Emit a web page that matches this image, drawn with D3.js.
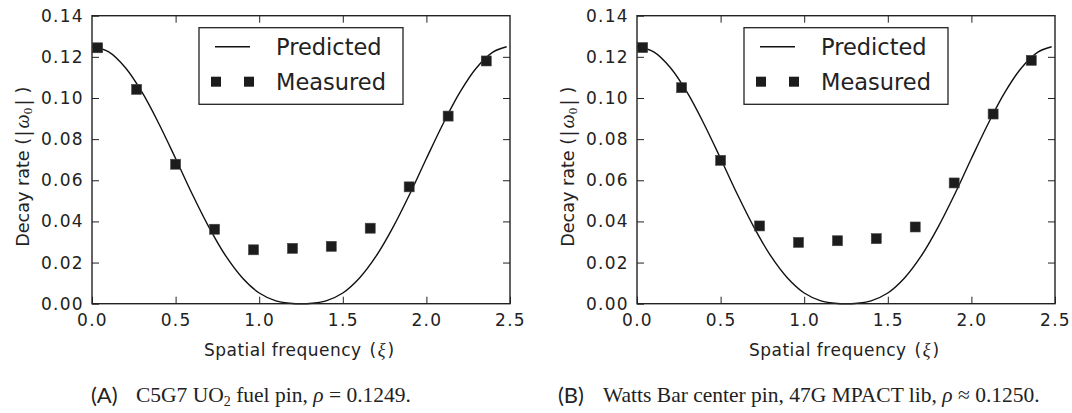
<!DOCTYPE html>
<html>
<head>
<meta charset="utf-8">
<script src="https://cdn.jsdelivr.net/npm/d3@7"></script>
<style>
  body { margin: 0; background: #fff; }
  svg { display: block; }
</style>
</head>
<body>
<div id="graphicContainer"></div>
<script>
// spatial frequency samples for the predicted curve
const xiCurve = [0.0, 0.1, 0.2, 0.3, 0.4, 0.5, 0.6, 0.7, 0.8, 0.9, 1.0, 1.1, 1.2, 1.25,
                 1.3, 1.4, 1.5, 1.6, 1.7, 1.8, 1.9, 2.0, 2.1, 2.2, 2.3, 2.4, 2.48];
const predicted = [0.1250, 0.1224, 0.1147, 0.1027, 0.0875, 0.0706, 0.0532, 0.0371, 0.0232,
                   0.0125, 0.0052, 0.0014, 0.0001, 0.0, 0.0001, 0.0014, 0.0052, 0.0125,
                   0.0232, 0.0371, 0.0532, 0.0706, 0.0875, 0.1027, 0.1147, 0.1224, 0.1249];

// measured points
const xiMeasured = [0.034, 0.267, 0.500, 0.733, 0.966, 1.199, 1.431, 1.664, 1.897, 2.130, 2.358];
const measuredA = [0.1244, 0.1042, 0.0678, 0.0362, 0.0262, 0.0269, 0.0279, 0.0367, 0.0568, 0.0912, 0.1180];
const measuredB = [0.1245, 0.1050, 0.0697, 0.0378, 0.0298, 0.0306, 0.0316, 0.0373, 0.0587, 0.0922, 0.1183];

const xTicks = [0.0, 0.5, 1.0, 1.5, 2.0, 2.5];
const yTicks = [0.00, 0.02, 0.04, 0.06, 0.08, 0.10, 0.12, 0.14];
const legendLabels = ["Predicted", "Measured"];

const svg = d3.select("#graphicContainer").append("svg")
    .attr("width", 1072)
    .attr("height", 413);

function drawPanel(left, measured, letter, caption, capX) {
    const w = 418, h = 288, top = 15.7;
    const g = svg.append("g").attr("transform", `translate(${left},${top})`);

    const x = d3.scaleLinear().domain([0, 2.5]).range([0, w]);
    const y = d3.scaleLinear().domain([0, 0.14]).range([h, 0]);

    // curve
    const line = d3.line()
        .x((d, i) => x(xiCurve[i]))
        .y(d => y(d))
        .curve(d3.curveCatmullRom);
    g.append("path")
        .datum(predicted)
        .attr("d", line)
        .attr("fill", "none")
        .attr("stroke", "#111")
        .attr("stroke-width", 1.4);

    // measured squares
    const s = 10;
    g.selectAll("rect.pt")
        .data(measured)
        .enter().append("rect")
        .attr("class", "pt")
        .attr("x", (d, i) => x(xiMeasured[i]) - s / 2)
        .attr("y", d => y(d) - s / 2)
        .attr("width", s)
        .attr("height", s)
        .attr("fill", "#1c1c1c")
        .attr("stroke", "#444")
        .attr("stroke-width", 0.6);

    // axes, ticks pointing inward on all four sides
    const tickLen = 7;
    const styleAxis = (sel) => {
        sel.select(".domain").remove();
        sel.selectAll(".tick line").attr("stroke", "#222").attr("stroke-width", 1);
        sel.selectAll(".tick text")
            .attr("fill", "#222")
            .attr("font-family", "DejaVu Sans")
            .style("font-size", "17px")
            .style("letter-spacing", "1.3px");
    };
    g.append("g").attr("transform", `translate(0,${h})`)
        .call(d3.axisBottom(x).tickValues(xTicks).tickFormat(d3.format(".1f"))
            .tickSizeInner(-tickLen).tickSizeOuter(0).tickPadding(10))
        .call(styleAxis);
    g.append("g")
        .call(d3.axisTop(x).tickValues(xTicks.slice(1, -1)).tickFormat("")
            .tickSizeInner(-tickLen).tickSizeOuter(0))
        .call(styleAxis);
    g.append("g")
        .call(d3.axisLeft(y).tickValues(yTicks).tickFormat(d3.format(".2f"))
            .tickSizeInner(-tickLen).tickSizeOuter(0).tickPadding(8))
        .call(styleAxis);
    g.append("g").attr("transform", `translate(${w},0)`)
        .call(d3.axisRight(y).tickValues(yTicks.slice(1, -1)).tickFormat("")
            .tickSizeInner(-tickLen).tickSizeOuter(0))
        .call(styleAxis);

    // frame
    g.append("rect")
        .attr("width", w).attr("height", h)
        .attr("fill", "none")
        .attr("stroke", "#222")
        .attr("stroke-width", 1.4);

    // legend
    const lg = g.append("g").attr("transform", "translate(107,12)");
    lg.append("rect")
        .attr("width", 204).attr("height", 76.6)
        .attr("fill", "#fff")
        .attr("stroke", "#222")
        .attr("stroke-width", 1.3);
    lg.append("line")
        .attr("x1", 16).attr("x2", 51).attr("y1", 19).attr("y2", 19)
        .attr("stroke", "#111").attr("stroke-width", 1.4);
    [17, 50].forEach(cx => {
        lg.append("rect")
            .attr("x", cx - s / 2).attr("y", 54 - s / 2)
            .attr("width", s).attr("height", s)
            .attr("fill", "#1c1c1c");
    });
    lg.selectAll("text.lab")
        .data(legendLabels)
        .enter().append("text")
        .attr("class", "lab")
        .attr("x", 77)
        .attr("y", (d, i) => 27 + i * 35)
        .attr("font-family", "DejaVu Sans")
        .attr("font-size", 22.5)
        .attr("fill", "#222")
        .text(d => d);

    // y label (baseline 63px left of the frame)
    const yl = g.append("text")
        .attr("transform", `translate(-63,${h / 2 + 7}) rotate(-90)`)
        .attr("text-anchor", "middle")
        .attr("font-family", "DejaVu Sans")
        .attr("font-size", 17.6)
        .attr("fill", "#222");
    yl.append("tspan").text("Decay rate (");
    yl.append("tspan").attr("font-family", "DejaVu Serif").attr("font-size", 19).attr("dx", 1).text("|");
    yl.append("tspan").attr("font-family", "Liberation Serif").attr("font-style", "italic")
        .attr("font-size", 20).attr("dx", 2).text("ω");
    yl.append("tspan").attr("font-family", "Liberation Serif").attr("font-size", 13).attr("dy", 3).text("0");
    yl.append("tspan").attr("font-family", "DejaVu Serif").attr("font-size", 19).attr("dx", 2).attr("dy", -3).text("|");
    yl.append("tspan").attr("dx", 6).text(")");

    // x label
    const xl = g.append("text")
        .attr("x", w / 2 - 2)
        .attr("y", 356 - top)
        .attr("text-anchor", "middle")
        .attr("font-family", "DejaVu Sans")
        .attr("font-size", 17)
        .attr("fill", "#222");
    xl.append("tspan").attr("letter-spacing", 0.5).text("Spatial frequency");
    xl.append("tspan").attr("dx", 8).text("(");
    xl.append("tspan").attr("font-family", "Liberation Serif").attr("font-style", "italic")
        .attr("font-size", 18).attr("dx", 1.5).text("ξ");
    xl.append("tspan").attr("dx", 2).text(")");

    // caption
    svg.append("text")
        .attr("x", capX)
        .attr("y", 403)
        .attr("font-family", "Lato")
        .attr("font-size", 22)
        .attr("fill", "#222")
        .text(letter);
    const cap = svg.append("text")
        .attr("x", capX + 45)
        .attr("y", 402)
        .attr("font-family", "Liberation Serif")
        .attr("font-size", 21.5)
        .attr("fill", "#222");
    caption.forEach(part => {
        const t = cap.append("tspan").text(part.t);
        if (part.sub) t.attr("font-size", 14).attr("dy", 4);
        if (part.up) t.attr("dy", -4);
        if (part.it) t.attr("font-style", "italic");
    });
}

drawPanel(92, measuredA, "(A)", [
    {t: "C5G7 UO"}, {t: "2", sub: true}, {t: " fuel pin, ", up: true},
    {t: "ρ", it: true}, {t: " = 0.1249."}
], 91);
drawPanel(637, measuredB, "(B)", [
    {t: "Watts Bar center pin, 47G MPACT lib, "},
    {t: "ρ", it: true}, {t: " ≈ 0.1250."}
], 558);
</script>
</body>
</html>
